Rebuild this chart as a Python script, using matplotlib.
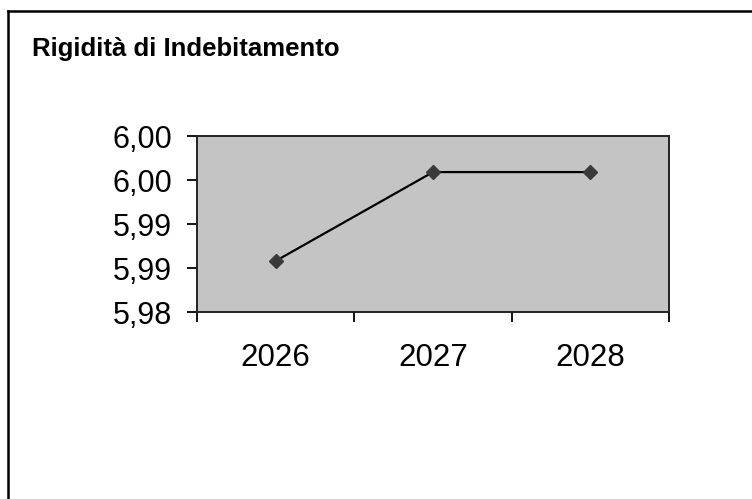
import matplotlib
matplotlib.use("Agg")
import matplotlib.pyplot as plt
from matplotlib.lines import Line2D

plt.rcParams["font.family"] = ["Liberation Sans", "DejaVu Sans"]

title = "Rigidità di Indebitamento"
years = ["2026", "2027", "2028"]
values = [5.9858, 5.9959, 5.9959]
y_ticks = [5.980, 5.985, 5.990, 5.995, 6.000]
y_tick_labels = ["5,98", "5,99", "5,99", "6,00", "6,00"]

fig = plt.figure(figsize=(7.52, 4.99), dpi=100)
ax = fig.add_axes([197 / 752, 1 - 312 / 499, 472 / 752, 176 / 499])

x = range(len(years))
ax.plot(x, values, color="black", lw=1.6, marker="D", ms=7,
        markerfacecolor="#3a3a3a", markeredgecolor="#3a3a3a")

ax.set_facecolor("#c4c4c4")
ax.set_xlim(-0.5, len(years) - 0.5)
ax.set_ylim(y_ticks[0], y_ticks[-1])
ax.set_yticks(y_ticks)
ax.set_yticklabels(y_tick_labels)
# category axis: ticks between categories, labels centred
ax.set_xticks([i - 0.5 for i in range(len(years) + 1)])
ax.set_xticklabels([])
ax.set_xticks(list(x), minor=True)
ax.set_xticklabels(years, minor=True)
ax.tick_params(axis="x", which="minor", length=0, pad=22, labelsize=22.5)
ax.tick_params(axis="x", which="major", length=7, width=1.3, direction="out")
ax.tick_params(axis="y", length=7, width=1.3, direction="out", pad=11,
               labelsize=22)
for s in ax.spines.values():
    s.set_linewidth(1.4)
    s.set_color("#222222")

fig.text(32 / 752, 1 - 56 / 499, title, fontsize=18.5, fontweight="bold",
         ha="left", va="baseline")

# outer chart border (runs off the right and bottom of the scan)
fig.add_artist(Line2D([8 / 752, 8 / 752], [0, 1 - 11 / 499], color="black", lw=1.8))
fig.add_artist(Line2D([8 / 752, 1], [1 - 11 / 499, 1 - 11 / 499], color="black", lw=1.8))

fig.savefig("out.png", dpi=100)
